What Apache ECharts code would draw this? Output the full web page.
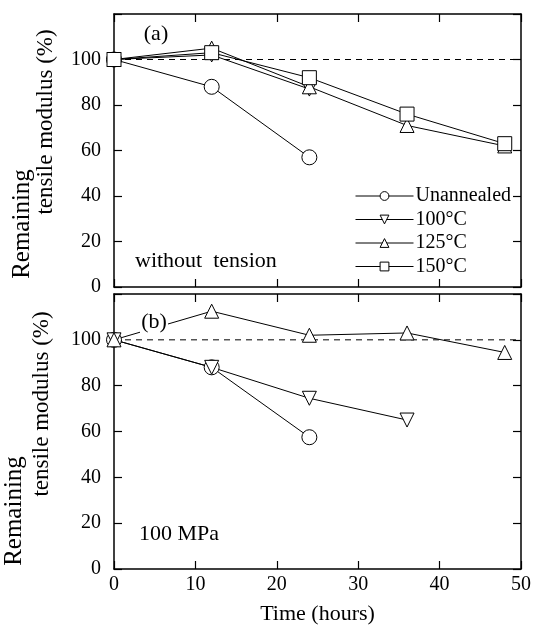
<!DOCTYPE html>
<html>
<head>
<meta charset="utf-8">
<script src="https://cdn.jsdelivr.net/npm/echarts@6/dist/echarts.min.js"></script>
<style>
html,body{margin:0;padding:0;background:#fff;}
#chart{width:534px;height:632px;}
</style>
</head>
<body>
<div id="chart"></div>
<script>
// ---- data ----
const timeA = [0, 12, 24, 36, 48];
const unannealedA = [100, 88, 57];
const c100A = [100, 102, 87];
const c125A = [100, 105, 88, 71, 62];
const c150A = [100, 103, 92, 76, 63];

const timeB = [0, 12, 24, 36, 48];
const unannealedB = [100, 88, 57.5];
const c100B = [100, 88, 74.5, 65];
const c125B = [100, 112.5, 102, 103, 94.5];

const refX = [0, 50];
const refY = [100, 100];

const xTicks = [0, 10, 20, 30, 40, 50];
const yTicks = [0, 20, 40, 60, 80, 100];
const seriesNames = ['Unannealed', '100\u00B0C', '125\u00B0C', '150\u00B0C'];

// ---- helpers ----
const FONT = '"Liberation Serif", "DejaVu Serif", serif';
function pairs(xs, ys) { return ys.map((v, i) => [xs[i], v]); }

const symbolDefs = {
  'Unannealed': { symbol: 'circle', size: 15, rotate: 0 },
  '100\u00B0C': { symbol: 'triangle', size: 14, rotate: 180 },
  '125\u00B0C': { symbol: 'triangle', size: 14, rotate: 0 },
  '150\u00B0C': { symbol: 'rect', size: 14, rotate: 0 }
};

function lineSeries(name, xs, ys, idx) {
  const d = symbolDefs[name];
  return {
    name: name, type: 'line', xAxisIndex: idx, yAxisIndex: idx,
    data: pairs(xs, ys),
    symbol: d.symbol, symbolSize: d.size, symbolRotate: d.rotate,
    showAllSymbol: true,
    lineStyle: { color: '#000', width: 1 },
    itemStyle: { color: '#fff', borderColor: '#000', borderWidth: 1 },
    emphasis: { disabled: true },
    animation: false, z: 3
  };
}
function refSeries(idx) {
  return {
    type: 'line', xAxisIndex: idx, yAxisIndex: idx,
    data: pairs(refX, refY), symbol: 'none',
    lineStyle: { color: '#000', width: 1, type: [6, 5] },
    silent: true, animation: false, z: 1
  };
}

const axisLine = { show: true, onZero: false, lineStyle: { color: '#000', width: 1.5 } };
const axisTick = { show: true, inside: true, length: 8, lineStyle: { color: '#000', width: 1.2 } };
const labelStyle = { color: '#000', fontFamily: FONT, fontSize: 20 };

function xAx(grid, pos, showLabel) {
  return {
    type: 'value', gridIndex: grid, position: pos, min: 0, max: 50, interval: 10,
    axisLine: axisLine, axisTick: axisTick, splitLine: { show: false },
    axisLabel: Object.assign({ show: showLabel, margin: 6 }, labelStyle)
  };
}
function yAx(grid, pos, showLabel) {
  return {
    type: 'value', gridIndex: grid, position: pos, min: 0, max: 120, interval: 20,
    axisLine: axisLine, axisTick: axisTick, splitLine: { show: false },
    axisLabel: Object.assign({ show: showLabel, margin: 13,
      formatter: v => (yTicks.indexOf(v) >= 0 ? String(v) : '') }, labelStyle)
  };
}

const chart = echarts.init(document.getElementById('chart'), null, { renderer: 'canvas' });
const option = {
  backgroundColor: '#fff',
  animation: false,
  grid: [
    { left: 114, top: 14, width: 407, height: 273 },
    { left: 114, top: 294, width: 407, height: 275 }
  ],
  xAxis: [
    xAx(0, 'bottom', false), xAx(0, 'top', false),
    Object.assign(xAx(1, 'bottom', true), {
      name: 'Time (hours)', nameLocation: 'middle', nameGap: 34,
      nameTextStyle: { color: '#000', fontFamily: FONT, fontSize: 22 }
    }),
    xAx(1, 'top', false)
  ],
  yAxis: [
    yAx(0, 'left', true), yAx(0, 'right', false),
    yAx(1, 'left', true), yAx(1, 'right', false)
  ],
  legend: {
    left: 350, top: 181, orient: 'vertical',
    data: seriesNames,
    itemWidth: 58, itemHeight: 11, itemGap: 3.5,
    itemStyle: { color: '#fff', borderColor: '#000', borderWidth: 1 },
    lineStyle: { color: '#000', width: 1 },
    textStyle: { color: '#000', fontFamily: FONT, fontSize: 20, padding: [0, 0, 0, -3] },
    selectedMode: false
  },
  graphic: [
    { type: 'text', x: 22, y: 224, rotation: Math.PI / 2,
      style: { text: 'Remaining', font: '25px ' + FONT, fill: '#000', align: 'center', verticalAlign: 'middle' } },
    { type: 'text', x: 46, y: 122, rotation: Math.PI / 2,
      style: { text: 'tensile modulus (%)', font: '23px ' + FONT, fill: '#000', align: 'center', verticalAlign: 'middle' } },
    { type: 'text', x: 14, y: 511, rotation: Math.PI / 2,
      style: { text: 'Remaining', font: '25px ' + FONT, fill: '#000', align: 'center', verticalAlign: 'middle' } },
    { type: 'text', x: 42, y: 404, rotation: Math.PI / 2,
      style: { text: 'tensile modulus (%)', font: '23px ' + FONT, fill: '#000', align: 'center', verticalAlign: 'middle' } },
    { type: 'text', x: 156, y: 34, z: 10,
      style: { text: '(a)', font: '22px ' + FONT, fill: '#000', align: 'center', verticalAlign: 'middle' } },
    { type: 'text', x: 135, y: 261, z: 10,
      style: { text: 'without  tension', font: '22px ' + FONT, fill: '#000', align: 'left', verticalAlign: 'middle' } },
    { type: 'rect', z: 9, shape: { x: 140, y: 310, width: 28, height: 24 }, style: { fill: '#fff' } },
    { type: 'text', x: 154, y: 322, z: 10,
      style: { text: '(b)', font: '22px ' + FONT, fill: '#000', align: 'center', verticalAlign: 'middle' } },
    { type: 'text', x: 139, y: 534, z: 10,
      style: { text: '100 MPa', font: '22px ' + FONT, fill: '#000', align: 'left', verticalAlign: 'middle' } }
  ],
  series: [
    refSeries(0),
    lineSeries('Unannealed', timeA, unannealedA, 0),
    lineSeries('100\u00B0C', timeA, c100A, 0),
    lineSeries('125\u00B0C', timeA, c125A, 0),
    lineSeries('150\u00B0C', timeA, c150A, 0),
    refSeries(2),
    lineSeries('Unannealed', timeB, unannealedB, 2),
    lineSeries('100\u00B0C', timeB, c100B, 2),
    lineSeries('125\u00B0C', timeB, c125B, 2)
  ]
};
chart.setOption(option);
</script>
</body>
</html>
